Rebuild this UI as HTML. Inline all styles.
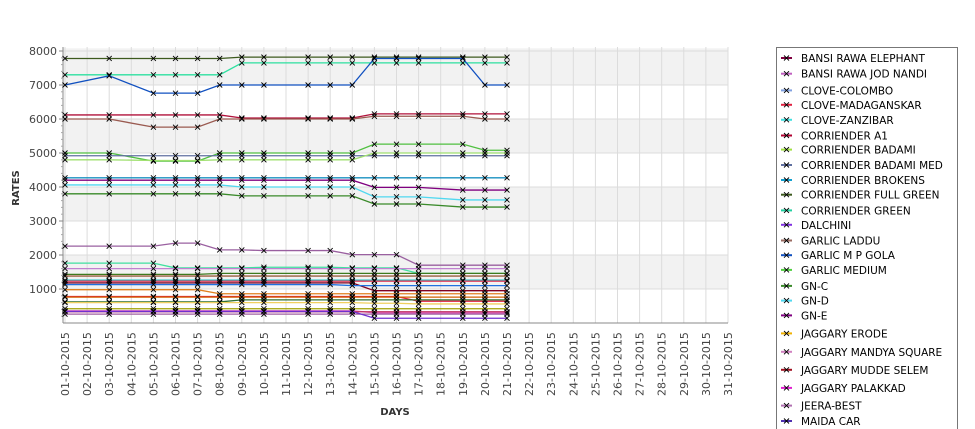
<!DOCTYPE html>
<html><head><meta charset="utf-8"><style>
html,body{margin:0;padding:0;background:#fff;width:975px;height:429px;overflow:hidden}
svg text{font-family:"DejaVu Sans","Liberation Sans",sans-serif}
</style></head><body>
<svg id="s" width="975" height="429" xmlns="http://www.w3.org/2000/svg"></svg>
<script>
const s=document.getElementById('s');let h='';
const X=d=>65+(d-1)*22.1, Y=v=>323-v*0.034;
const L=63,R=728,T=47,B=323;
// bands
[[7000,8100],[5000,6000],[3000,4000],[1000,2000]].forEach(([a,b])=>{h+=`<rect x="${L}" y="${Y(Math.min(b,8080))}" width="${R-L}" height="${(Math.min(b,8080)-a)*0.034}" fill="#f2f2f2"/>`});
for(let d=1;d<=31;d++)h+=`<line x1="${X(d)}" y1="${T}" x2="${X(d)}" y2="${B}" stroke="#dcdcdc" stroke-width="1"/>`;
for(let v=1000;v<=8000;v+=1000)h+=`<line x1="${L}" y1="${Y(v)}" x2="${R}" y2="${Y(v)}" stroke="#dcdcdc"/>`;
// axes
h+=`<line x1="${L}" y1="${T}" x2="${L}" y2="${B}" stroke="#888"/><line x1="${L}" y1="${B}" x2="${R}" y2="${B}" stroke="#888"/>`;
for(let v=1000;v<=8000;v+=1000){h+=`<text x="57" y="${Y(v)+4}" font-size="11" fill="#444" text-anchor="end">${v}</text><line x1="59" x2="63" y1="${Y(v)}" y2="${Y(v)}" stroke="#888"/>`;}
for(let v=200;v<8000;v+=200)if(v%1000)h+=`<line x1="61" x2="63" y1="${Y(v)}" y2="${Y(v)}" stroke="#aaa"/>`;
for(let d=1;d<=31;d++){const dd=String(d).padStart(2,'0');h+=`<text transform="translate(${X(d)+4},396) rotate(-90)" font-size="11" fill="#444">${dd}-10-2015</text>`;}
h+=`<text x="395" y="415" font-size="10" font-weight="bold" fill="#333" text-anchor="middle">DAYS</text>`;
h+=`<text transform="translate(19,188) rotate(-90)" font-size="10" font-weight="bold" fill="#333" text-anchor="middle">RATES</text>`;
const D=[1,3,5,6,7,8,9,10,12,13,14,15,16,17,19,20,21];
const ser=[
['#3d5a1e',[7780,7780,7780,7780,7780,7780,7820,7820,7820,7820,7820,7820,7820,7820,7820,7820,7820]],
['#2de0a0',[7300,7300,7300,7300,7300,7300,7650,7650,7650,7650,7650,7650,7650,7650,7650,7650,7650]],
['#1050c0',[7000,7270,6760,6760,6760,7000,7000,7000,7000,7000,7000,7780,7780,7780,7780,7000,7000]],
['#b0103a',[6120,6120,6120,6120,6120,6120,6030,6030,6030,6030,6030,6150,6150,6150,6150,6150,6150]],
['#9a5a50',[6000,6000,5760,5760,5760,6000,6000,6000,6000,6000,6000,6080,6080,6080,6080,6000,6000]],
['#50c040',[5000,5000,4760,4760,4760,5000,5000,5000,5000,5000,5000,5260,5260,5260,5260,5080,5080]],
['#6070a0',[4920,4920,4920,4920,4920,4920,4920,4920,4920,4920,4920,4920,4920,4920,4920,4920,4920]],
['#a0e070',[4800,4800,4780,4780,4780,4800,4800,4800,4800,4800,4800,5000,5000,5000,5000,5000,5000]],
['#1890c0',Array(17).fill(4270)],
['#800080',[4200,4200,4200,4200,4200,4200,4200,4200,4200,4200,4200,3990,3990,3990,3910,3910,3910]],
['#50d8f0',[4060,4060,4060,4060,4060,4060,4000,4000,4000,4000,4000,3710,3710,3710,3620,3620,3620]],
['#3a8a2a',[3800,3800,3800,3800,3800,3800,3740,3740,3740,3740,3740,3500,3500,3500,3410,3410,3410]],
['#9a60a0',[2260,2260,2260,2350,2350,2150,2150,2130,2130,2130,2010,2010,2010,1700,1700,1700,1700]],
['#40e0a0',[1760,1760,1760,1620,1620,1620,1620,1640,1640,1640,1620,1620,1620,1460,1460,1460,1460]],
['#c080d0',Array(17).fill(1600)],
['#3d7a1e',[1430,1430,1430,1430,1430,1460,1460,1460,1460,1460,1460,1460,1460,1460,1460,1460,1460]],
['#9a6040',Array(17).fill(1380)],
['#20c0c0',Array(17).fill(1260)],
['#e04060',Array(17).fill(1230)],
['#800020',[1180,1180,1180,1180,1180,1180,1180,1180,1180,1180,1180,950,950,950,950,950,950]],
['#2070e0',[1130,1130,1130,1130,1130,1130,1130,1130,1130,1130,1100,1100,1100,1100,1100,1100,1100]],
['#e08020',[980,980,980,980,980,860,860,860,860,860,860,860,860,860,860,860,860]],
['#e02040',[780,780,780,780,780,780,780,780,780,780,780,780,780,640,640,640,640]],
['#d06000',Array(17).fill(760)],
['#307030',[620,620,620,620,620,620,680,680,680,680,680,680,680,680,680,680,680]],
['#f0d060',[600,600,600,600,600,600,600,600,600,600,600,580,580,560,560,560,560]],
['#a0a000',Array(17).fill(420)],
['#e060c0',[360,360,360,360,360,360,360,360,360,360,360,300,300,300,300,300,300]],
['#c03060',Array(17).fill(330)],
['#a060a0',Array(17).fill(260)],
['#7030d0',[340,340,340,340,340,340,340,340,340,340,340,140,140,140,140,140,140]],
];
ser.forEach(([c,v])=>{h+=`<polyline fill="none" stroke="${c}" stroke-width="1.3" points="${D.map((d,i)=>X(d)+','+Y(v[i])).join(' ')}"/>`;
D.forEach((d,i)=>{const x=X(d),y=Y(v[i]);h+=`<path d="M${x-2.5} ${y-2.5}L${x+2.5} ${y+2.5}M${x-2.5} ${y+2.5}L${x+2.5} ${y-2.5}" stroke="#000" stroke-width="0.9"/>`;});});
// legend
h+=`<rect x="776.5" y="47.5" width="181" height="390" fill="#fff" stroke="#777"/>`;
const names=["BANSI RAWA ELEPHANT","BANSI RAWA JOD NANDI","CLOVE-COLOMBO","CLOVE-MADAGANSKAR","CLOVE-ZANZIBAR","CORRIENDER A1","CORRIENDER BADAMI","CORRIENDER BADAMI MED","CORRIENDER BROKENS","CORRIENDER FULL GREEN","CORRIENDER GREEN","DALCHINI","GARLIC LADDU","GARLIC M P GOLA","GARLIC MEDIUM","GN-C","GN-D","GN-E","JAGGARY ERODE","JAGGARY MANDYA SQUARE","JAGGARY MUDDE SELEM","JAGGARY PALAKKAD","JEERA-BEST","MAIDA CAR"];
const lc=["#800040","#c060c0","#80a0e0","#e02040","#40e0e0","#b00030","#a0e040","#6070a0","#10a0d0","#3d5a1e","#20d0a0","#8030e0","#9a6a60","#1050c0","#50d040","#3a8a2a","#50d8f0","#800080","#f0b000","#d080c0","#a01020","#e020d0","#b070b0","#5030b0"];
const ly=[58,73.7,90.4,104.8,119.8,135.5,149.6,165,180,194.7,210.4,224.8,240.5,255.2,269.9,285.9,300.6,315.4,333.4,351.8,369.8,387.9,405.6,421];
names.forEach((n,i)=>{const y=ly[i];h+=`<line x1="781" x2="792" y1="${y}" y2="${y}" stroke="${lc[i]}" stroke-width="2"/><path d="M784 ${y-2.5}L789 ${y+2.5}M784 ${y+2.5}L789 ${y-2.5}" stroke="#000" stroke-width="0.9"/><text x="801" y="${y+4}" font-size="10.5" fill="#000">${n}</text>`;});
s.innerHTML=h;
</script>
</body></html>
